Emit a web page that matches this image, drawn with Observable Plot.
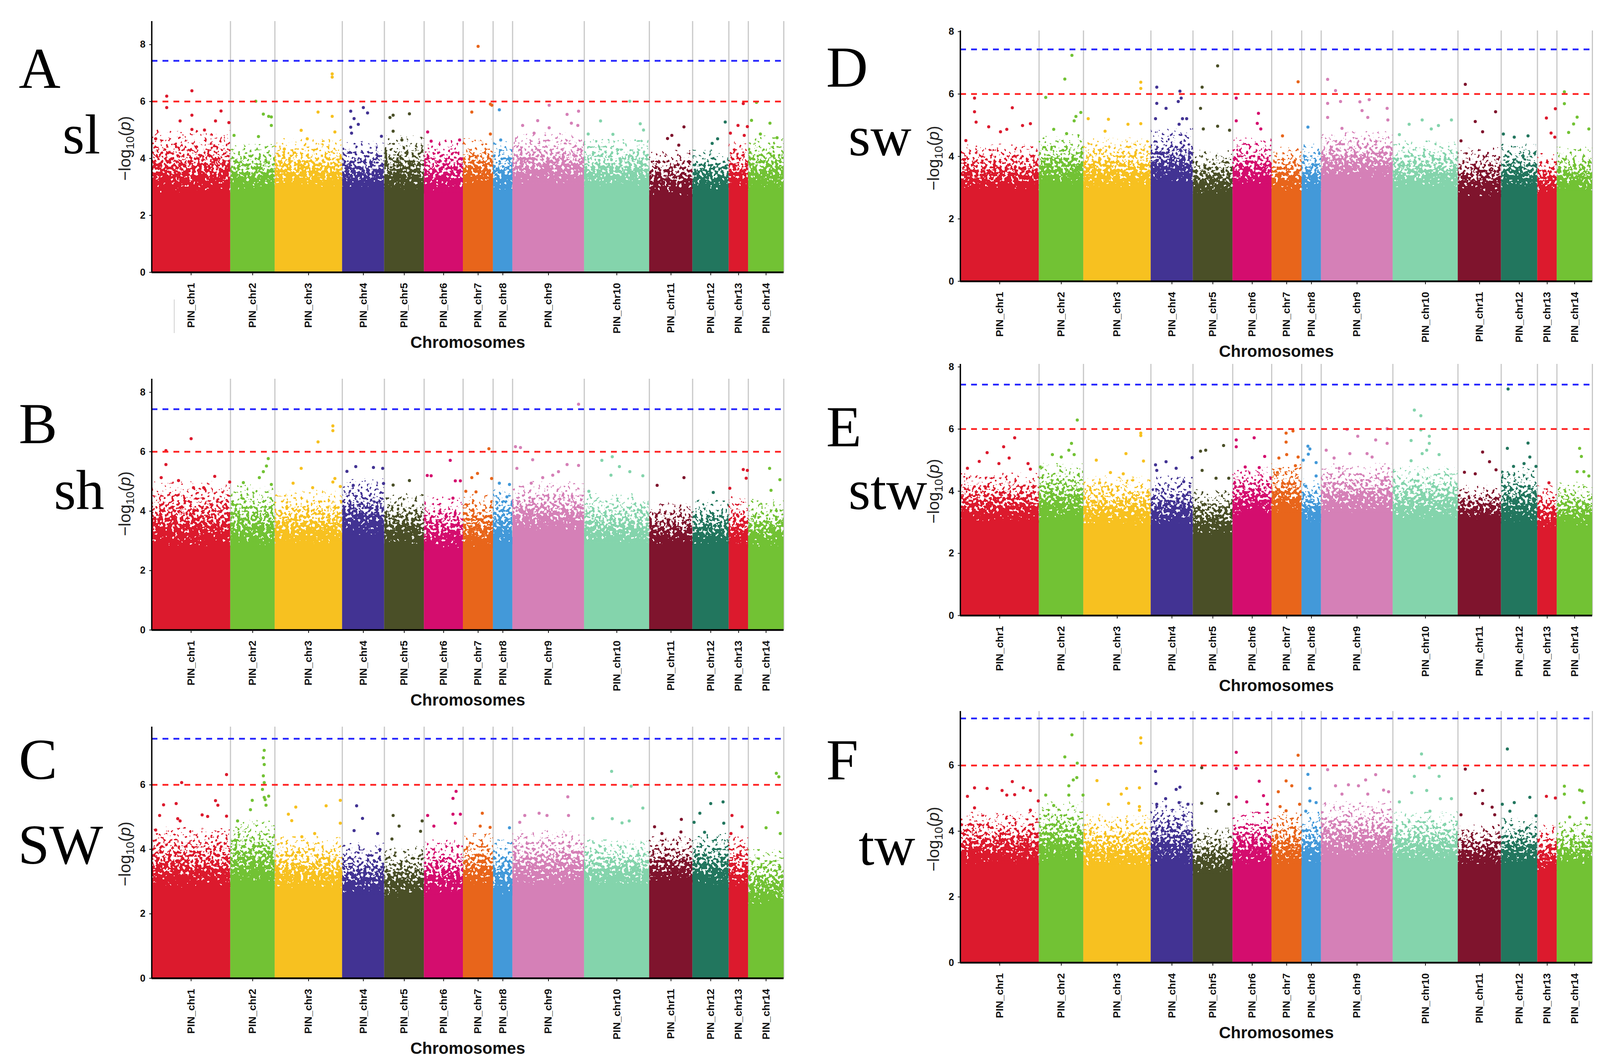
<!DOCTYPE html>
<html>
<head>
<meta charset="utf-8">
<script src="https://cdn.jsdelivr.net/npm/d3@7"></script>
<script src="https://cdn.jsdelivr.net/npm/@observablehq/plot@0.6"></script>
<style>
html, body { margin: 0; padding: 0; background: #fff; }
#page { position: relative; width: 4113px; height: 2725px; overflow: hidden; background: #fff; }
#page svg.panel { position: absolute; }
#overlay { position: absolute; left: 0; top: 0; pointer-events: none; }
</style>
</head>
<body>
<div id="page"></div>
<script>
// ---------------- DATA ----------------
const chromosomes = ["PIN_chr1","PIN_chr2","PIN_chr3","PIN_chr4","PIN_chr5","PIN_chr6","PIN_chr7",
  "PIN_chr8","PIN_chr9","PIN_chr10","PIN_chr11","PIN_chr12","PIN_chr13","PIN_chr14"];
const chrLengths = [202,114,173,108,102,100,77,50,184,167,111,93,50,91];
const chrColors = ["#DC1A2D","#72C234","#F7C120","#423393","#4A4F27","#D40D6E","#E8651B",
  "#4399D9","#D580B7","#84D4AC","#7F142D","#22765E","#DC1A2D","#72C234"];
const panelLetters = ["A","B","C","D","E","F"];
const traits = ["sl","sh","SW","sw","stw","tw"];
const yMaxima = [8.82, 8.45, 7.8, 8.03, 8.09, 7.65];
const yTicks8 = [0,2,4,6,8];
const yTicks6 = [0,2,4,6];
const suggestiveLine = 6.0;
const significantLine = 7.43;
const xTitle = "Chromosomes";

// dense region: fully solid up to "base", thinning scatter up to "top"
const slBase = [2.8,2.9,3.0,3.0,2.9,2.8,3.1,2.9,3.1,3.0,2.7,2.9,3.0,2.9];
const slTop  = [4.7,4.2,4.4,4.3,4.5,4.4,4.4,4.3,4.6,4.4,4.0,4.0,4.3,4.5];
const shBase = [2.8,2.8,2.9,3.2,2.9,2.7,2.8,2.9,3.3,2.9,2.9,2.9,2.9,2.8];
const shTop  = [4.7,4.6,4.4,4.8,4.3,4.2,4.3,4.6,4.7,4.3,4.0,4.1,4.2,4.1];
const SWBase = [2.8,3.0,2.8,2.6,2.5,2.6,2.9,2.6,2.9,2.9,3.0,2.9,2.8,2.3];
const SWTop  = [4.4,4.6,4.1,3.9,3.8,4.0,4.2,4.0,4.3,4.0,4.1,4.2,4.1,3.7];
const swBase = [2.9,3.1,3.0,3.2,2.8,3.0,2.9,2.9,3.3,3.0,2.7,3.0,2.8,2.9];
const swTop  = [4.1,4.4,4.3,4.6,3.9,4.3,4.0,4.1,4.5,4.2,4.0,4.1,3.8,4.0];
const stwBase = [3.0,3.1,2.9,2.9,2.6,3.2,3.3,3.0,3.3,3.1,3.1,3.0,2.8,2.9];
const stwTop  = [4.3,4.6,4.2,4.2,3.8,4.5,4.6,4.1,4.6,4.5,3.9,4.5,3.9,4.0];
const twBase = [3.0,3.1,2.9,3.0,2.7,3.0,3.0,3.0,3.2,3.1,3.0,3.0,2.8,3.0];
const twTop  = [4.3,4.6,4.2,4.6,3.8,4.3,4.3,4.3,4.6,4.3,3.9,4.1,3.9,4.0];

// isolated SNPs: [chromosome, relative position within chromosome, -log10(p)]
const slPeaks = [
 1,.19,6.19, 1,.19,5.79, 1,.51,6.38, 1,.51,5.52, 1,.36,5.32, 1,.88,5.67, 1,.81,5.32, 1,.67,5.0, 1,.98,5.26, 1,.51,5.02, 1,.05,4.69,
 2,.57,6.01, 2,.74,5.56, 2,.86,5.48, 2,.92,5.46, 2,.08,4.81, 2,.63,4.77, 2,.92,5.16,
 3,.85,6.97, 3,.85,6.86, 3,.64,5.63, 3,.85,5.48, 3,.39,4.99, 3,.89,4.93, 3,.48,4.69, 3,.14,4.33,
 4,.5,5.79, 4,.2,5.66, 4,.28,5.4, 4,.6,5.6, 4,.38,5.2, 4,.2,5.1, 4,.93,4.78, 4,.22,4.89,
 5,.22,5.52, 5,.63,5.57, 5,.14,5.44, 5,.22,4.96, 5,.44,4.65,
 6,.09,4.93, 6,.91,4.65, 6,.18,4.61,
 7,.5,7.94, 7,.91,5.91, 7,.96,5.87, 7,.29,5.63, 7,.91,4.86,
 8,.32,5.71, 8,.39,4.65,
 9,.51,5.87, 9,.92,5.66, 9,.35,5.33, 9,.76,5.55, 9,.82,5.24, 9,.14,5.16, 9,.51,5.08, 9,.3,4.89, 9,.91,5.16,
 10,.7,6.01, 10,.25,5.32, 10,.86,5.22, 10,.06,4.86, 10,.44,4.85, 10,.91,5.0,
 11,.8,5.11, 11,.52,4.81, 11,.42,4.7, 11,.68,4.47,
 12,.9,5.28, 12,.69,4.69, 12,.54,4.53,
 13,.74,5.93, 13,.47,5.16, 13,.95,5.12, 13,.08,4.89, 13,.79,4.81,
 14,.23,5.97, 14,.09,5.34, 14,.61,5.24, 14,.34,4.86, 14,.81,4.73
];
const shPeaks = [
 1,.5,6.44, 1,.18,6.04, 1,.18,5.57, 1,.12,5.13, 1,.34,5.03, 1,.8,5.17, 1,.66,4.79, 1,.53,4.79, 1,.99,4.98,
 2,.85,5.77, 2,.81,5.52, 2,.74,5.33, 2,.65,5.13, 2,.29,4.96, 2,.92,4.9,
 3,.86,6.87, 3,.86,6.71, 3,.64,6.33, 3,.39,5.44, 3,.89,5.1, 3,.86,4.98, 3,.27,4.94, 3,.56,4.79, 3,.97,4.83,
 4,.32,5.5, 4,.74,5.47, 4,.96,5.44, 4,.11,5.34, 4,.98,4.93, 4,.26,4.87,
 5,.63,5.03, 5,.22,4.88,
 6,.67,5.71, 6,.08,5.2, 6,.18,5.19, 6,.8,5.02, 6,.93,5.02, 6,.74,4.44,
 7,.86,6.1, 7,.48,5.27, 7,.29,5.13, 7,.43,4.65, 7,.09,4.67, 7,.95,5.1,
 8,.32,4.94, 8,.84,4.9, 8,.71,4.48,
 9,.92,7.6, 9,.04,6.17, 9,.11,6.14, 9,.28,5.73, 9,.06,5.44, 9,.76,5.57, 9,.92,5.54, 9,.64,5.33, 9,.56,5.21, 9,.42,5.13, 9,.26,4.94,
 10,.43,5.83, 10,.27,5.71, 10,.54,5.5, 10,.7,5.33, 10,.9,5.19, 10,.41,5.21, 10,.07,4.67,
 11,.8,5.13, 11,.18,4.87,
 12,.57,4.63,
 13,.74,5.4, 13,.95,5.37, 13,.89,5.11, 13,.05,4.77,
 14,.6,5.44, 14,.89,5.06, 14,.64,4.7
];
const SWPeaks = [
 1,.95,6.32, 1,.38,6.07, 1,.15,5.38, 1,.31,5.42, 1,.81,5.51, 1,.84,5.37, 1,.1,5.05, 1,.33,4.95, 1,.36,4.88, 1,.64,5.07, 1,.71,5.02, 1,.95,5.03, 1,.05,4.6,
 2,.76,7.07, 2,.74,6.84, 2,.76,6.63, 2,.74,6.28, 2,.76,6.07, 2,.72,5.86, 2,.76,5.61, 2,.78,5.54, 2,.8,5.37, 2,.49,5.52, 2,.45,5.23, 2,.86,5.65, 2,.16,4.88,
 3,.97,5.52, 3,.31,5.31, 3,.76,5.35, 3,.2,5.09, 3,.25,4.89, 3,.97,4.81, 3,.4,4.39, 3,.59,4.49,
 4,.34,5.35, 4,.48,4.96, 4,.28,4.58, 4,.84,4.49,
 5,.22,5.05, 5,.37,4.72, 5,.95,4.88, 5,.91,4.56, 5,.19,4.32,
 6,.82,5.8, 6,.74,5.58, 6,.09,5.05, 6,.74,5.09, 6,.93,5.09, 6,.25,4.72, 6,.8,4.81,
 7,.64,5.12, 7,.57,4.72, 7,.9,4.68,
 8,.84,4.67,
 9,.77,5.63, 9,.37,5.12, 9,.17,5.05, 9,.48,5.05, 9,.78,5.05, 9,.1,4.84,
 10,.42,6.42, 10,.72,5.96, 10,.9,5.28, 10,.13,4.96, 10,.43,4.95, 10,.58,4.82, 10,.69,4.88,
 11,.74,4.93, 11,.12,4.7, 11,.29,4.49, 11,.73,4.54,
 12,.84,5.47, 12,.5,5.42, 12,.2,5.12, 12,.04,4.84, 12,.86,4.81, 12,.33,4.53,
 13,.16,5.05, 13,.68,4.7, 13,.11,4.49,
 14,.79,6.36, 14,.86,6.25, 14,.83,5.14, 14,.5,4.67, 14,.9,4.49
];
const swPeaks = [
 1,.66,5.56, 1,.18,5.87, 1,.18,5.43, 1,.2,5.1, 1,.36,4.95, 1,.79,4.99, 1,.89,5.05, 1,.51,4.79, 1,.59,4.87, 1,.07,4.51,
 2,.74,7.24, 2,.58,6.48, 2,.15,5.89, 2,.94,5.41, 2,.83,5.28, 2,.79,5.14, 2,.33,4.87, 2,.62,4.73,
 3,.85,6.38, 3,.85,6.18, 3,.37,5.19, 3,.66,5.03, 3,.07,5.21, 3,.85,5.05, 3,.32,4.81,
 4,.14,6.22, 4,.69,6.09, 4,.72,5.87, 4,.65,5.76, 4,.14,5.7, 4,.36,5.54, 4,.75,5.21, 4,.85,5.21, 4,.67,5.03, 4,.11,5.21,
 5,.62,6.9, 5,.23,6.22, 5,.19,5.54, 5,.62,4.97, 5,.26,4.88, 5,.92,4.84,
 6,.09,5.87, 6,.66,5.38, 6,.09,5.14, 6,.63,5.06, 6,.72,4.88,
 7,.88,6.39, 7,.36,4.66,
 8,.32,4.94,
 9,.09,6.47, 9,.2,6.11, 9,.27,5.76, 9,.67,5.82, 9,.54,5.75, 9,.92,5.54, 9,.09,5.7, 9,.57,5.47, 9,.65,5.25, 9,.09,5.25, 9,.29,4.9, 9,.93,5.17,
 10,.45,5.17, 10,.25,5.03, 10,.7,4.99, 10,.9,5.17, 10,.1,4.7, 10,.59,4.88,
 11,.17,6.31, 11,.87,5.43, 11,.4,5.12, 11,.57,4.79, 11,.07,4.5,
 12,.06,4.72, 12,.74,4.66, 12,.36,4.62,
 13,.92,5.53, 13,.46,5.23, 13,.7,4.75, 13,.89,4.62,
 14,.21,6.07, 14,.21,5.69, 14,.57,5.26, 14,.47,5.04, 14,.9,4.88, 14,.33,4.77
];
const stwPeaks = [
 1,.69,5.72, 1,.55,5.43, 1,.34,5.24, 1,.62,5.07, 1,.24,4.96, 1,.49,4.89, 1,.86,4.89, 1,.09,4.74, 1,.89,4.71,
 2,.86,6.29, 2,.73,5.54, 2,.67,5.32, 2,.79,5.18, 2,.3,5.18, 2,.5,5.1, 2,.03,4.78,
 3,.85,5.87, 3,.85,5.79, 3,.63,5.21, 3,.19,5.0, 3,.89,4.97, 3,.59,4.56, 3,.4,4.6, 3,.24,4.27,
 4,.98,5.08, 4,.36,4.95, 4,.11,4.85, 4,.6,4.74, 4,.14,4.67, 4,.78,4.31,
 5,.77,5.47, 5,.32,5.32, 5,.19,5.29, 5,.23,4.67, 5,.58,4.42, 5,.9,4.42,
 6,.09,5.65, 6,.09,5.43, 6,.55,5.72, 6,.82,5.12, 6,.32,4.78, 6,.68,4.76,
 7,.71,5.94, 7,.48,5.87, 7,.48,5.58, 7,.5,5.18, 7,.24,5.07, 7,.88,5.1, 7,.79,4.82, 7,.19,4.6,
 8,.32,5.45, 8,.42,5.36, 8,.34,5.19, 8,.08,5.0, 8,.74,4.92, 8,.74,4.49, 8,.21,4.16,
 9,.36,5.99, 9,.92,6.01, 9,.51,5.77, 9,.76,5.65, 9,.92,5.54, 9,.07,5.32, 9,.4,5.21, 9,.18,5.07, 9,.64,5.21, 9,.71,5.1, 9,.25,4.74,
 10,.33,6.61, 10,.43,6.43, 10,.43,5.97, 10,.56,5.77, 10,.28,5.63, 10,.56,5.54, 10,.52,5.32, 10,.45,5.21, 10,.28,4.98, 10,.71,5.18,
 11,.57,5.26, 11,.73,4.95, 11,.15,4.61, 11,.88,4.69, 11,.4,4.56,
 12,.19,7.29, 12,.17,5.38, 12,.74,5.55, 12,.79,5.1, 12,.63,4.89, 12,.34,4.8, 12,.96,4.8,
 13,.59,4.27,
 14,.64,5.38, 14,.69,5.12, 14,.57,4.63, 14,.76,4.63, 14,.9,4.49
];
const twPeaks = [
 1,.66,5.51, 1,.8,5.32, 1,.34,5.3, 1,.18,5.32, 1,.53,5.24, 1,.89,5.24, 1,.59,5.1, 1,.69,5.11, 1,.09,5.06, 1,.89,4.64, 1,.18,4.71, 1,.99,4.92,
 2,.74,6.93, 2,.58,6.26, 2,.86,6.07, 2,.85,5.63, 2,.77,5.56, 2,.67,5.38, 2,.15,5.1, 2,.67,5.1, 2,.99,5.1, 2,.33,4.78,
 3,.85,6.84, 3,.85,6.68, 3,.2,5.54, 3,.64,5.3, 3,.83,5.32, 3,.56,5.13, 3,.37,4.82, 3,.67,4.85, 3,.83,4.75, 3,.83,4.64,
 4,.11,5.82, 4,.12,5.45, 4,.69,5.34, 4,.6,5.27, 4,.35,4.99, 4,.67,4.87, 4,.88,4.82, 4,.14,4.82,
 5,.22,5.93, 5,.62,5.15, 5,.22,4.85, 5,.9,4.82, 5,.58,4.61,
 6,.09,6.4, 6,.09,5.91, 6,.68,5.52, 6,.09,5.04, 6,.79,5.08, 6,.36,4.89, 6,.89,4.82,
 7,.88,6.31, 7,.48,5.53, 7,.67,5.38, 7,.22,5.2, 7,.93,4.82, 7,.28,4.75, 7,.48,4.62,
 8,.32,5.73, 8,.42,5.3, 8,.42,4.92, 8,.74,4.87, 8,.21,4.61,
 9,.09,5.87, 9,.76,5.72, 9,.62,5.56, 9,.2,5.38, 9,.38,5.41, 9,.29,5.13, 9,.52,5.38, 9,.87,5.25, 9,.65,5.13, 9,.94,5.2,
 10,.44,6.35, 10,.56,5.93, 10,.33,5.67, 10,.71,5.67, 10,.29,5.17, 10,.52,5.24, 10,.1,4.89, 10,.73,4.99, 10,.9,4.99, 10,.57,4.61,
 11,.17,5.89, 11,.57,5.24, 11,.4,5.15, 11,.57,4.84, 11,.79,4.73, 11,.07,4.5, 11,.85,4.5,
 12,.17,6.5, 12,.79,5.03, 12,.36,4.87, 12,.03,4.82, 12,.24,4.61, 12,.96,4.47,
 13,.46,5.06, 13,.92,5.01,
 14,.21,5.37, 14,.64,5.25, 14,.71,5.22, 14,.21,5.13, 14,.76,4.87, 14,.36,4.43, 14,.83,4.4
];

// ---------------- LAYOUT / DRAWING ----------------
const page = document.getElementById("page");
const starts = chrLengths.map((_, i) => d3.sum(chrLengths.slice(0, i)));
const ends = chrLengths.map((l, i) => starts[i] + l);
const centers = chrLengths.map((l, i) => starts[i] + l / 2);
const total = d3.sum(chrLengths);
const chrIdx = d3.range(chromosomes.length);

const frames = [
  {left: 0, width: 2050, mL: 388, mR: 44, axisTop: 54, y0: 697, lx: 48, ly: 225, tx: 160, ty: 393, yl: 380},
  {left: 0, width: 2050, mL: 388, mR: 44, axisTop: 970, y0: 1613, lx: 48, ly: 1135, tx: 138, ty: 1304, yl: 1290},
  {left: 0, width: 2050, mL: 388, mR: 44, axisTop: 1861, y0: 2505, lx: 48, ly: 1995, tx: 46, ty: 2212, yl: 2187},
  {left: 2050, width: 2063, mL: 408, mR: 37, axisTop: 78, y0: 720, lx: 2115, ly: 222, tx: 2172, ty: 398, yl: 405},
  {left: 2050, width: 2063, mL: 408, mR: 37, axisTop: 932, y0: 1576, lx: 2115, ly: 1143, tx: 2172, ty: 1304, yl: 1258},
  {left: 2050, width: 2063, mL: 408, mR: 37, axisTop: 1821, y0: 2465, lx: 2115, ly: 1996, tx: 2198, ty: 2215, yl: 2149}
];
const bases = [slBase, shBase, SWBase, swBase, stwBase, twBase];
const tops = [slTop, shTop, SWTop, swTop, stwTop, twTop];
const peakSets = [slPeaks, shPeaks, SWPeaks, swPeaks, stwPeaks, twPeaks];
const tickSets = [yTicks8, yTicks8, yTicks6, yTicks8, yTicks8, yTicks6];

const mT = 20, mB = 215;

function addDefs(svg, p) {
  const defs = d3.select(svg).insert("defs", ":first-child");
  chrColors.forEach((c, i) => {
    const g = defs.append("linearGradient").attr("id", `band${p}_${i}`)
      .attr("x1", 0).attr("y1", 1).attr("x2", 0).attr("y2", 0);
    [[0, 1], [0.2, 0.8], [0.45, 0.56], [0.7, 0.38], [1, 0.14]].forEach(([o, a]) =>
      g.append("stop").attr("offset", o).attr("stop-color", c).attr("stop-opacity", a));
  });
  const fl = defs.append("filter").attr("id", `speckle${p}`)
    .attr("x", 0).attr("y", 0).attr("width", 1).attr("height", 1)
    .attr("color-interpolation-filters", "sRGB");
  fl.append("feTurbulence").attr("type", "fractalNoise").attr("baseFrequency", 0.13)
    .attr("numOctaves", 2).attr("seed", 3 + p).attr("result", "noise");
  fl.append("feColorMatrix").attr("in", "noise").attr("type", "matrix")
    .attr("values", "0 0 0 0 0  0 0 0 0 0  0 0 0 0 0  1.8 0 0 0 -0.4").attr("result", "n");
  fl.append("feComposite").attr("in", "SourceAlpha").attr("in2", "n").attr("operator", "arithmetic")
    .attr("k1", 0).attr("k2", 1).attr("k3", 1).attr("k4", -0.5).attr("result", "sum");
  const ct = fl.append("feComponentTransfer").attr("in", "sum").attr("result", "mask");
  ct.append("feFuncA").attr("type", "linear").attr("slope", 12).attr("intercept", -6);
  fl.append("feComposite").attr("in", "SourceGraphic").attr("in2", "mask").attr("operator", "in").attr("result", "c");
  const ct2 = fl.append("feComponentTransfer").attr("in", "c");
  ct2.append("feFuncA").attr("type", "linear").attr("slope", 30).attr("intercept", 0);
}

function buildPanel(p) {
  const f = frames[p];
  const yMax = yMaxima[p];
  const base = bases[p], top = tops[p];
  const flat = peakSets[p];
  const peaks = [];
  for (let i = 0; i < flat.length; i += 3) peaks.push({chr: flat[i] - 1, frac: flat[i + 1], value: flat[i + 2]});

  const svg = Plot.plot({
    width: f.width,
    height: (f.y0 - f.axisTop) + mT + mB,
    marginLeft: f.mL, marginRight: f.mR, marginTop: mT, marginBottom: mB,
    x: {domain: [0, total]},
    y: {domain: [0, yMax]},
    color: {type: "identity"},
    style: {fontFamily: "'Liberation Sans', Arial, sans-serif", background: "transparent", color: "#111", overflow: "visible"},
    marks: [
      Plot.ruleX(ends, {x: d => d, y1: 0, y2: yMax, stroke: "#c8c8c8", strokeWidth: 3}),
      Plot.rect(chrIdx, {x1: i => starts[i], x2: i => ends[i], y1: i => base[i] - 0.05, y2: i => top[i] + 0.3,
        fill: i => `url(#band${p}_${i})`}),
      Plot.rect(chrIdx, {x1: i => starts[i], x2: i => ends[i], y1: 0, y2: i => base[i], fill: i => chrColors[i]}),
      Plot.dot(peaks, {x: d => starts[d.chr] + d.frac * chrLengths[d.chr], y: "value", r: 4, fill: d => chrColors[d.chr]}),
      Plot.ruleY([suggestiveLine], {stroke: "#ff2222", strokeWidth: 4.5, strokeDasharray: "15,13"}),
      Plot.ruleY([significantLine], {stroke: "#2424ff", strokeWidth: 4.5, strokeDasharray: "15,13"}),
      Plot.ruleX([0], {y1: 0, y2: yMax, stroke: "#000", strokeWidth: 3.5}),
      Plot.ruleY([0], {x1: 0, x2: total, stroke: "#000", strokeWidth: 4.5}),
      Plot.axisY({ticks: tickSets[p], tickFormat: d => String(d), tickSize: 6, tickPadding: 10,
        fontSize: 25, fontWeight: "bold", label: null, strokeWidth: 2}),
      Plot.axisX({ticks: centers, tickFormat: d => chromosomes[centers.indexOf(d)], tickRotate: -90,
        tickSize: 8, tickPadding: 19, fontSize: 26.5, fontWeight: "bold", label: null, strokeWidth: 2}),
      Plot.text([xTitle], {text: d => d, frameAnchor: "bottom", dy: 193, lineAnchor: "bottom",
        fontSize: 42, fontWeight: "bold", fill: "#111"})
    ]
  });
  svg.classList.add("panel");
  svg.style.left = f.left + "px";
  svg.style.top = (f.axisTop - mT) + "px";
  addDefs(svg, p);
  // speckled look for the thinning scatter zone
  d3.select(svg).selectAll("rect")
    .filter(function () { return (this.getAttribute("fill") || "").startsWith("url(#band"); })
    .attr("filter", `url(#speckle${p})`);
  page.appendChild(svg);
}
for (let p = 0; p < 6; p++) buildPanel(p);

// overlay with panel letters, trait names and y-axis titles
const ov = d3.select(page).append("svg").attr("id", "overlay").attr("width", 4113).attr("height", 2725);
frames.forEach((f, p) => {
  ov.append("text").attr("x", f.lx).attr("y", f.ly)
    .attr("font-family", "'Liberation Serif', 'Times New Roman', serif").attr("font-size", 148)
    .attr("fill", "#000").text(panelLetters[p]);
  ov.append("text").attr("x", f.tx).attr("y", f.ty)
    .attr("font-family", "'Liberation Serif', 'Times New Roman', serif").attr("font-size", 145)
    .attr("fill", "#000").text(traits[p]);
  const axisX = f.left + f.mL;
  const t = ov.append("text")
    .attr("transform", `translate(${axisX - 54},${f.yl}) rotate(-90)`)
    .attr("text-anchor", "middle")
    .attr("font-family", "'Liberation Sans', Arial, sans-serif").attr("font-size", 42).attr("fill", "#222");
  t.append("tspan").text("\u2212log");
  t.append("tspan").attr("font-size", 30).attr("dy", 9).text("10");
  t.append("tspan").attr("dy", -9).text("(");
  t.append("tspan").attr("font-style", "italic").text("p");
  t.append("tspan").text(")");
});
// faint stray guide stroke visible under panel A's axis
ov.append("line").attr("x1", 446).attr("x2", 446).attr("y1", 767).attr("y2", 853)
  .attr("stroke", "#d0d0d0").attr("stroke-width", 2);
</script>
</body>
</html>
